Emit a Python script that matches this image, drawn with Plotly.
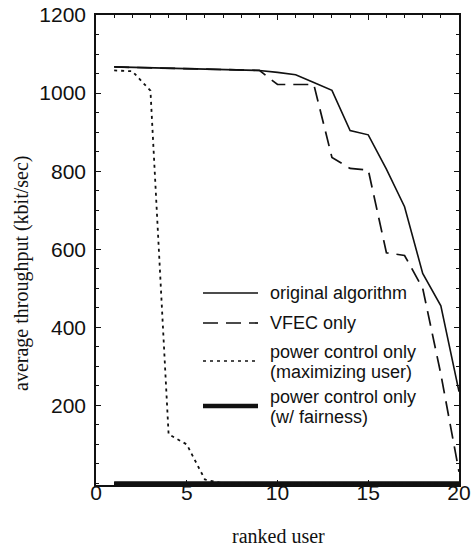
import plotly.graph_objects as go

# ---- data ----
users = [1, 2, 3, 4, 5, 6, 7, 8, 9, 10, 11, 12, 13, 14, 15, 16, 17, 18, 19, 20]
original_algorithm = [1067, 1066, 1065, 1064, 1063, 1062, 1061, 1060, 1058, 1053,
                      1047, 1027, 1007, 904, 893, 805, 709, 538, 455, 235]
vfec_only = [1067, 1066, 1065, 1064, 1063, 1062, 1061, 1060, 1058, 1022,
             1022, 1022, 835, 807, 803, 591, 584, 500, 280, 30]
pc_maximizing = [1058, 1056, 1006, 126, 100, 10, 0, 0, 0, 0,
                 0, 0, 0, 0, 0, 0, 0, 0, 0, 0]
pc_fairness = [0, 0, 0, 0, 0, 0, 0, 0, 0, 0,
               0, 0, 0, 0, 0, 0, 0, 0, 0, 0]

x_ticks = [0, 5, 10, 15, 20]
y_ticks = [200, 400, 600, 800, 1000, 1200]
legend_labels = [["original algorithm"], ["VFEC only"],
                 ["power control only", "(maximizing user)"],
                 ["power control only", "(w/ fairness)"]]

INK = "#111111"
fig = go.Figure()
fig.add_trace(go.Scatter(x=users, y=pc_fairness, mode="lines",
                         line=dict(color=INK, width=4.5), showlegend=False))
fig.add_trace(go.Scatter(x=users, y=pc_maximizing, mode="lines",
                         line=dict(color=INK, width=1.8, dash="3px,4px"), showlegend=False))
fig.add_trace(go.Scatter(x=users, y=vfec_only, mode="lines",
                         line=dict(color=INK, width=1.7, dash="15px,8px"), showlegend=False))
fig.add_trace(go.Scatter(x=users, y=original_algorithm, mode="lines",
                         line=dict(color=INK, width=1.6), showlegend=False))

W, H = 471, 548
# plot area in window pixels
L, R, T, B = 96, 459, 15, 485
def px(xw):
    return (xw - L) / (R - L)
def py(yw):
    return (B - yw) / (B - T)

sample_styles = [dict(width=1.5, dash="solid"),
                 dict(width=1.7, dash="15px,8px"),
                 dict(width=1.7, dash="3px,4px"),
                 dict(width=4.5, dash="solid")]
sample_y = [293, 323, 361, 406]
text_center_y = [293, 323, 362, 407]
shapes = []
annotations = []
for st, sy, ty, labs in zip(sample_styles, sample_y, text_center_y, legend_labels):
    shapes.append(dict(type="line", xref="paper", yref="paper",
                       x0=px(203), x1=px(258), y0=py(sy), y1=py(sy),
                       line=dict(color=INK, width=st["width"], dash=st["dash"])))
    txt = "<br>".join('<span style="font-size:18px">%s</span>' % s for s in labs)
    annotations.append(dict(xref="paper", yref="paper", x=px(269), y=py(ty),
                            text=txt, showarrow=False, xanchor="left", yanchor="middle",
                            align="left", borderpad=0,
                            font=dict(family="Liberation Sans", size=15.5, color=INK)))

# axis titles (serif)
annotations.append(dict(xref="paper", yref="paper", x=px(21), y=py(274),
                        text="average throughput (kbit/sec)", textangle=-90, showarrow=False,
                        xanchor="center", yanchor="middle",
                        font=dict(family="Liberation Serif", size=20, color=INK)))
annotations.append(dict(xref="paper", yref="paper", x=px(278), y=py(536),
                        text="ranked user", showarrow=False,
                        xanchor="center", yanchor="middle",
                        font=dict(family="Liberation Serif", size=20, color=INK)))

axis_common = dict(showgrid=False, zeroline=False, showline=True, linecolor=INK,
                   linewidth=1.5, mirror="ticks", ticks="inside", tickcolor=INK,
                   tickwidth=1.2, ticklen=5, automargin=False,
                   tickfont=dict(family="Liberation Sans", size=21, color=INK))

fig.update_layout(
    template="none",
    width=W, height=H,
    margin=dict(l=L, r=W - R, t=T, b=H - B, autoexpand=False),
    paper_bgcolor="white", plot_bgcolor="white",
    showlegend=False,
    shapes=shapes, annotations=annotations,
    xaxis=dict(range=[0, 20], tickmode="array", tickvals=x_ticks,
               ticktext=[str(v) for v in x_ticks], ticklabelstandoff=-12,
               minor=dict(tickmode="linear", tick0=0, dtick=1, ticks="inside",
                          ticklen=3, tickcolor=INK, tickwidth=1.1),
               **axis_common),
    yaxis=dict(range=[-4, 1200], tickmode="array", tickvals=y_ticks,
               ticktext=[str(v) for v in y_ticks], ticklabelstandoff=4,
               minor=dict(tickmode="linear", tick0=0, dtick=50, ticks="inside",
                          ticklen=3, tickcolor=INK, tickwidth=1.1),
               **axis_common),
)

# remove the page's default 8px body margin so the figure sits at the window's corner
fig.write_html("out.html",
               config={"displayModeBar": False},
               post_script="document.body.style.margin='0';document.body.style.overflow='hidden';")
